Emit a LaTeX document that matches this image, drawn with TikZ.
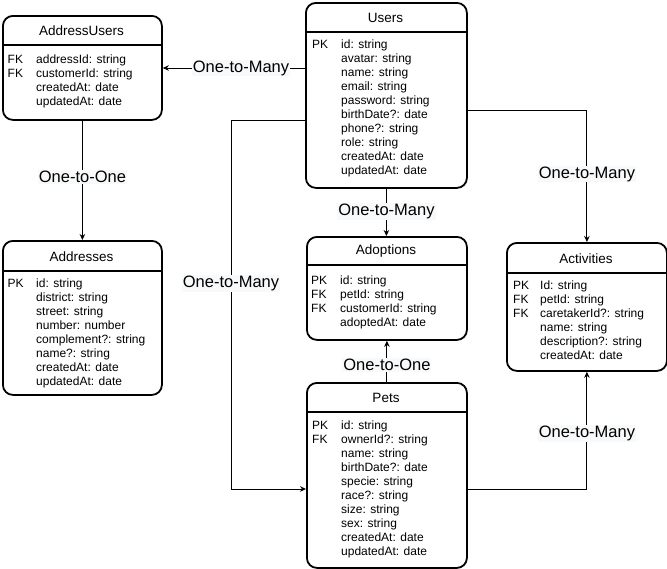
\documentclass[tikz,border=0pt]{standalone}
\usepackage{fontspec}
\setmainfont{Liberation Sans}
\usetikzlibrary{arrows.meta}
\definecolor{lblbg}{HTML}{F8F9FA}
\newcommand\tablerows[5]{%
  \foreach \k/\f [count=\i] in {#5} {
    \node[keytxt] (#1-k\i) at (#2, #4+14*\i-14+4.2) {\k};
    \node[keytxt] (#1-f\i) at (#3, #4+14*\i-14+4.2) {\f};
  }}
\newcommand\tablebox[7]{% name, x1, y1, x2, y2, yheader, title
  \node[tbox, minimum width=#4-#2, minimum height=#5-#3] (#1) at (#2,#3) {};
  \draw[hline] (#1.west |- 0,#6) -- (#1.east |- 0,#6);
  \node[ttl] (#1-t) at ({(#2+#4)/2}, {(#3+#6)/2+1}) {#7};
}
\begin{document}
\begin{tikzpicture}[x=1pt,y=-1pt,
  tbox/.style={draw, line width=1.8pt, rounded corners=10pt, inner sep=0pt, anchor=north west, fill=white},
  hline/.style={line width=1.8pt},
  ttl/.style={font=\fontsize{13.5}{15}\selectfont, inner sep=0pt},
  keytxt/.style={font=\fontsize{12}{14}\selectfont, inner sep=0pt, anchor=base west},
  conn/.style={line width=0.9pt, -{Stealth[length=6pt,width=5.5pt]}},
  lbl/.style={font=\fontsize{16.5}{18}\selectfont, fill=lblbg, inner sep=1pt, text=black}]
\useasboundingbox (0,0) rectangle (667,568);

\tablebox{au}{2}{15}{161}{119}{45}{AddressUsers}
\tablerows{au}{7.5}{36}{59}{FK/addressId: string, FK/customerId: string, /createdAt: date, /updatedAt: date}

\tablebox{users}{305}{2}{466}{187}{32}{Users}
\tablerows{users}{312}{341}{44}{PK/id: string, /avatar: string, /name: string, /email: string, /password: string, /birthDate?: date, /phone?: string, /role: string, /createdAt: date, /updatedAt: date}

\tablebox{addr}{2}{240}{161}{394}{271}{Addresses}
\tablerows{addr}{7.5}{36}{283}{PK/id: string, /district: string, /street: string, /number: number, /complement?: string, /name?: string, /createdAt: date, /updatedAt: date}

\tablebox{adop}{306}{236}{466}{339}{265}{Adoptions}
\tablerows{adop}{311}{340}{280}{PK/id: string, FK/petId: string, FK/customerId: string, /adoptedAt: date}

\tablebox{act}{506}{242}{666}{370}{273}{Activities}
\tablerows{act}{513}{540}{285}{PK/Id: string, FK/petId: string, FK/caretakerId?: string, /name: string, /description?: string, /createdAt: date}

\tablebox{pets}{306}{382}{466}{567}{412}{Pets}
\tablerows{pets}{312}{341}{425}{PK/id: string, FK/ownerId?: string, /name: string, /birthDate?: date, /specie: string, /race?: string, /size: string, /sex: string, /createdAt: date, /updatedAt: date}

% connectors
\draw[conn] (users.west |- 0,68) -- node[lbl, pos=0.45] {One-to-Many} (au.east |- 0,68);
\draw[conn] (au.south) -- node[lbl, pos=0.47] {One-to-One} (addr.north);
\draw[conn] (users.west |- 0,120) -- (231,120) -- node[lbl, pos=0.444] {One-to-Many} (231,489) -- (pets.west |- 0,489);
\draw[conn] (users.south) -- node[lbl, pos=0.48] {One-to-Many} (users.south |- adop.north);
\draw[conn] (users.east |- 0,110) -- (act.north |- 0,110) -- node[lbl, pos=0.485] {One-to-Many} (act.north);
\draw[conn] (pets.north) -- node[lbl, pos=0.42] {One-to-One} (pets.north |- adop.south);
\draw[conn] (pets.east |- 0,489) -- (act.south |- 0,489) -- node[lbl, pos=0.47] {One-to-Many} (act.south);
\end{tikzpicture}
\end{document}
